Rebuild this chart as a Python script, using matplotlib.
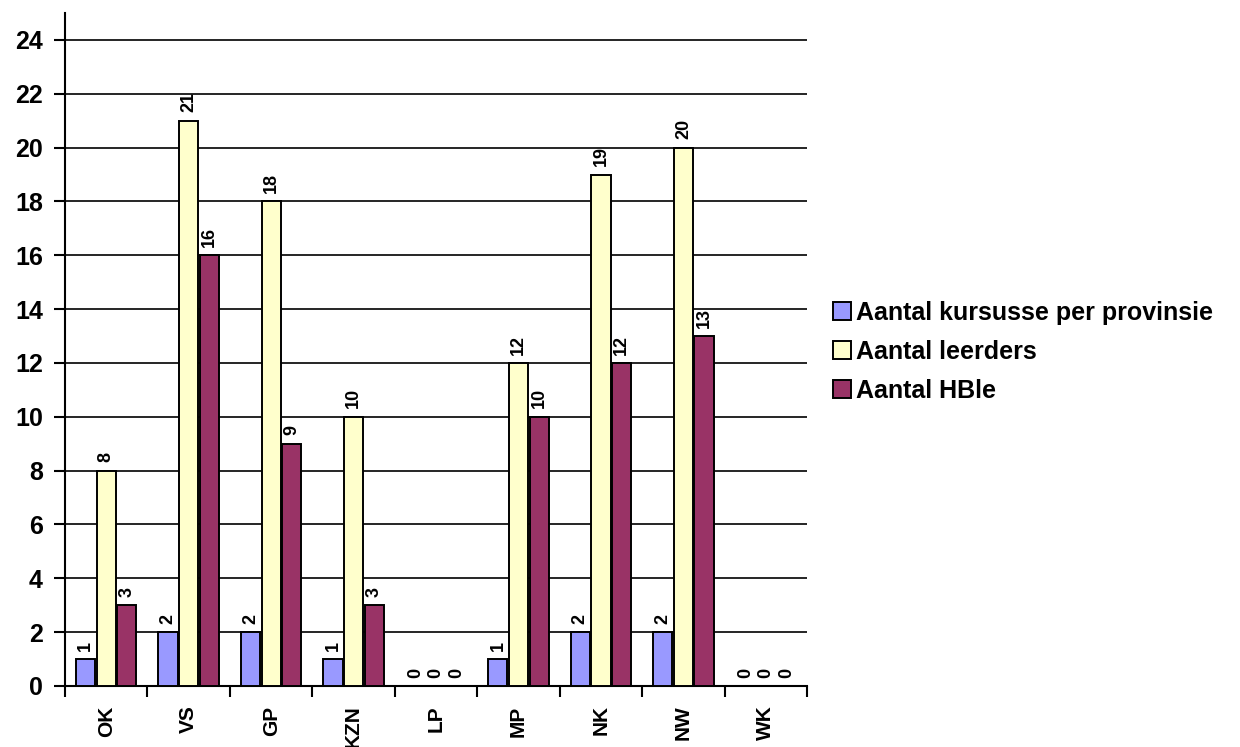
import numpy as np
import matplotlib
matplotlib.use('Agg')
import matplotlib.pyplot as plt

plt.rcParams['font.family'] = ['Liberation Sans', 'DejaVu Sans']
plt.rcParams['font.weight'] = 'bold'

# Data
provinces = ['OK', 'VS', 'GP', 'KZN', 'LP', 'MP', 'NK', 'NW', 'WK']
kursusse = [1, 2, 2, 1, 0, 1, 2, 2, 0]
leerders = [8, 21, 18, 10, 0, 12, 19, 20, 0]
hble = [3, 16, 9, 3, 0, 10, 12, 13, 0]
series_names = ['Aantal kursusse per provinsie', 'Aantal leerders', 'Aantal HBle']
colors = ['#9999FF', '#FFFFCC', '#993366']

fig = plt.figure(figsize=(12.4, 7.47), dpi=100)
ax = fig.add_axes([0.0524, 0.0817, 0.5985, 0.9009])

x = np.arange(len(provinces))
w = 0.25
for i, (vals, name, c) in enumerate(zip([kursusse, leerders, hble], series_names, colors)):
    pos = x + (i - 1) * w
    ax.bar(pos, vals, width=w * 0.93, color=c, edgecolor='black', linewidth=1.4,
           label=name, zorder=3)
    for p, v in zip(pos, vals):
        ax.annotate(str(v), (p, v), xytext=(0, 6), textcoords='offset points',
                    rotation=90, ha='center', va='bottom',
                    fontsize=13, fontweight='bold', zorder=4)

ax.set_xlim(-0.5, len(provinces) - 0.5)
ax.set_ylim(0, 25)
ax.set_yticks(range(0, 25, 2))
ax.yaxis.grid(True, color='black', linewidth=1.2, zorder=0)
ax.set_axisbelow(True)

ax.set_xticks(x)
ax.set_xticklabels(provinces, rotation=90, fontsize=15, fontweight='bold')
ax.tick_params(axis='x', length=0, pad=14)
ax.set_xticks(np.arange(-0.5, len(provinces)), minor=True)
ax.tick_params(axis='x', which='minor', length=8, width=1.5)
ax.tick_params(axis='y', labelsize=18, length=8, width=1.5, pad=8)
for lab in ax.get_yticklabels():
    lab.set_fontweight('bold')

for s in ['top', 'right']:
    ax.spines[s].set_visible(False)
ax.spines['left'].set_linewidth(1.5)
ax.spines['bottom'].set_linewidth(1.5)

fig.legend(loc='center left', bbox_to_anchor=(0.672, 0.529), frameon=False,
           prop={'size': 18, 'weight': 'bold'}, handlelength=0.7, handleheight=0.75,
           handletextpad=0.2, labelspacing=0.6, borderaxespad=0, borderpad=0)

fig.savefig('out.png', dpi=100)
